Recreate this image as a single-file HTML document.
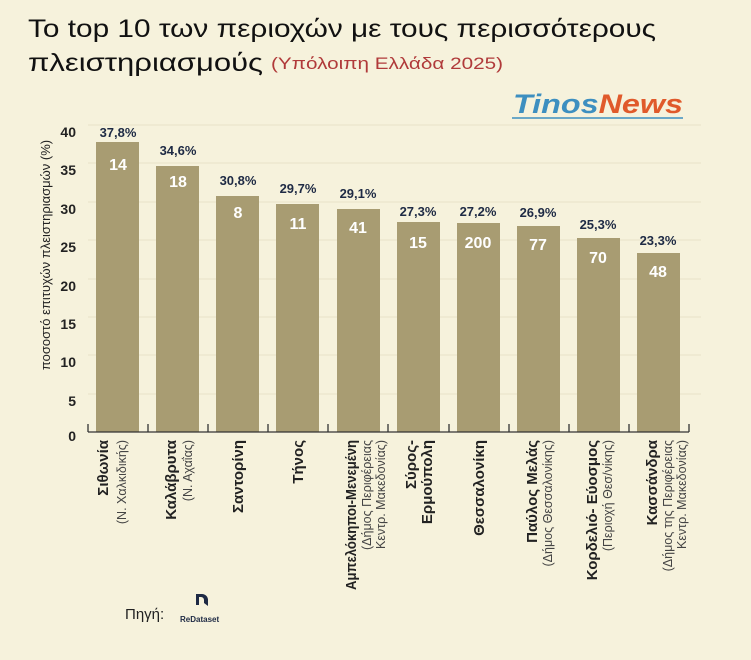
<!DOCTYPE html>
<html><head><meta charset="utf-8"><style>
body{margin:0;background:#f6f2dc;}
svg{display:block;font-family:"Liberation Sans","DejaVu Sans",sans-serif;}
</style></head><body>
<svg width="751" height="660" viewBox="0 0 751 660" xmlns="http://www.w3.org/2000/svg">
<rect width="751" height="660" fill="#f6f2dc"/>
<text x="28" y="37" font-size="25" fill="#111" textLength="628" lengthAdjust="spacingAndGlyphs">Το top 10 των περιοχών με τους περισσότερους</text>
<text x="28" y="71" font-size="25" fill="#111" textLength="235" lengthAdjust="spacingAndGlyphs">πλειστηριασμούς</text>
<text x="271" y="69" font-size="17" fill="#b03a3a" textLength="232" lengthAdjust="spacingAndGlyphs">(Υπόλοιπη Ελλάδα 2025)</text>
<text x="513" y="113" font-size="27" font-weight="bold" font-style="italic" fill="#3d8fc0" textLength="170" lengthAdjust="spacingAndGlyphs">Tinos<tspan fill="#e05a2b">News</tspan></text>
<line x1="512" y1="118" x2="683" y2="118" stroke="#3d8fc0" stroke-width="1.5"/>
<g stroke="#e8e2c8" stroke-width="1">
<line x1="88" y1="125" x2="701" y2="125"/><line x1="88" y1="163" x2="701" y2="163"/>
<line x1="88" y1="202" x2="701" y2="202"/><line x1="88" y1="240" x2="701" y2="240"/>
<line x1="88" y1="279" x2="701" y2="279"/><line x1="88" y1="317" x2="701" y2="317"/>
<line x1="88" y1="355" x2="701" y2="355"/><line x1="88" y1="394" x2="701" y2="394"/>
</g>
<g font-size="14" font-weight="bold" fill="#222" text-anchor="end">
<text x="76" y="137">40</text><text x="76" y="175">35</text><text x="76" y="214">30</text>
<text x="76" y="252">25</text><text x="76" y="291">20</text><text x="76" y="329">15</text>
<text x="76" y="367">10</text><text x="76" y="406">5</text><text x="76" y="441">0</text>
</g>
<text transform="translate(50,255) rotate(-90)" font-size="13" fill="#222" text-anchor="middle">ποσοστό επιτυχών πλειστηριασμών (%)</text>
<g fill="#a89c72">
<rect x="96" y="142" width="43" height="290"/>
<rect x="156" y="166" width="43" height="266"/>
<rect x="216" y="196" width="43" height="236"/>
<rect x="276" y="204" width="43" height="228"/>
<rect x="337" y="209" width="43" height="223"/>
<rect x="397" y="222" width="43" height="210"/>
<rect x="457" y="223" width="43" height="209"/>
<rect x="517" y="226" width="43" height="206"/>
<rect x="577" y="238" width="43" height="194"/>
<rect x="637" y="253" width="43" height="179"/>
</g>
<g stroke="#333" stroke-width="1.3">
<line x1="88" y1="432" x2="689" y2="432"/>
<line x1="88" y1="424" x2="88" y2="432"/><line x1="148" y1="424" x2="148" y2="432"/>
<line x1="208" y1="424" x2="208" y2="432"/><line x1="268" y1="424" x2="268" y2="432"/>
<line x1="328" y1="424" x2="328" y2="432"/><line x1="388" y1="424" x2="388" y2="432"/>
<line x1="449" y1="424" x2="449" y2="432"/><line x1="509" y1="424" x2="509" y2="432"/>
<line x1="569" y1="424" x2="569" y2="432"/><line x1="629" y1="424" x2="629" y2="432"/>
<line x1="689" y1="424" x2="689" y2="432"/>
</g>
<g font-size="13" font-weight="bold" fill="#1e2a44" text-anchor="middle">
<text x="118" y="137">37,8%</text><text x="178" y="155">34,6%</text><text x="238" y="185">30,8%</text>
<text x="298" y="193">29,7%</text><text x="358" y="198">29,1%</text><text x="418" y="216">27,3%</text>
<text x="478" y="216">27,2%</text><text x="538" y="217">26,9%</text><text x="598" y="229">25,3%</text>
<text x="658" y="245">23,3%</text>
</g>
<g font-size="16" font-weight="bold" fill="#fff" text-anchor="middle">
<text x="118" y="170">14</text><text x="178" y="187">18</text><text x="238" y="218">8</text>
<text x="298" y="229">11</text><text x="358" y="233">41</text><text x="418" y="248">15</text>
<text x="478" y="248">200</text><text x="538" y="250">77</text><text x="598" y="263">70</text>
<text x="658" y="277">48</text>
</g>
<g text-anchor="end" fill="#222">
<text transform="translate(108,440) rotate(-90)" font-size="15" font-weight="bold">Σιθωνία</text>
<text transform="translate(126,440) rotate(-90)" font-size="12.5" fill="#444">(Ν. Χαλκιδικής)</text>
<text transform="translate(176,440) rotate(-90)" font-size="15" font-weight="bold">Καλάβρυτα</text>
<text transform="translate(192,440) rotate(-90)" font-size="12.5" fill="#444">(Ν. Αχαΐας)</text>
<text transform="translate(243,440) rotate(-90)" font-size="15" font-weight="bold">Σαντορίνη</text>
<text transform="translate(303,440) rotate(-90)" font-size="15" font-weight="bold">Τήνος</text>
<text transform="translate(356,440) rotate(-90)" font-size="14.5" font-weight="bold" textLength="150" lengthAdjust="spacingAndGlyphs">Αμπελόκηποι-Μενεμένη</text>
<text transform="translate(371,440) rotate(-90)" font-size="12.5" fill="#444">(Δήμος Περιφέρειας</text>
<text transform="translate(385,440) rotate(-90)" font-size="12.5" fill="#444">Κεντρ. Μακεδονίας)</text>
<text transform="translate(416,440) rotate(-90)" font-size="15" font-weight="bold">Σύρος-</text>
<text transform="translate(432,440) rotate(-90)" font-size="15" font-weight="bold">Ερμούπολη</text>
<text transform="translate(484,440) rotate(-90)" font-size="15" font-weight="bold">Θεσσαλονίκη</text>
<text transform="translate(537,440) rotate(-90)" font-size="15" font-weight="bold">Παύλος Μελάς</text>
<text transform="translate(552,440) rotate(-90)" font-size="12.5" fill="#444">(Δήμος Θεσσαλονίκης)</text>
<text transform="translate(597,440) rotate(-90)" font-size="15" font-weight="bold">Κορδελιό- Εύοσμος</text>
<text transform="translate(612,440) rotate(-90)" font-size="12.5" fill="#444">(Περιοχή Θεσ/νίκης)</text>
<text transform="translate(657,440) rotate(-90)" font-size="15" font-weight="bold">Κασσάνδρα</text>
<text transform="translate(672,440) rotate(-90)" font-size="12.5" fill="#444">(Δήμος της Περιφέρειας</text>
<text transform="translate(686,440) rotate(-90)" font-size="12.5" fill="#444">Κεντρ. Μακεδονίας)</text>
</g>
<text x="125" y="619" font-size="15" fill="#222">Πηγή:</text>
<path d="M196 594 h6 a6 6 0 0 1 6 6 v6 l-4 -3 v-3 a3 3 0 0 0 -3 -3 h-2 v8 h-3 z" fill="#1e2a44"/>
<text x="180" y="622" font-size="8" font-weight="bold" fill="#1e2a44">ReDataset</text>
</svg>
</body></html>
